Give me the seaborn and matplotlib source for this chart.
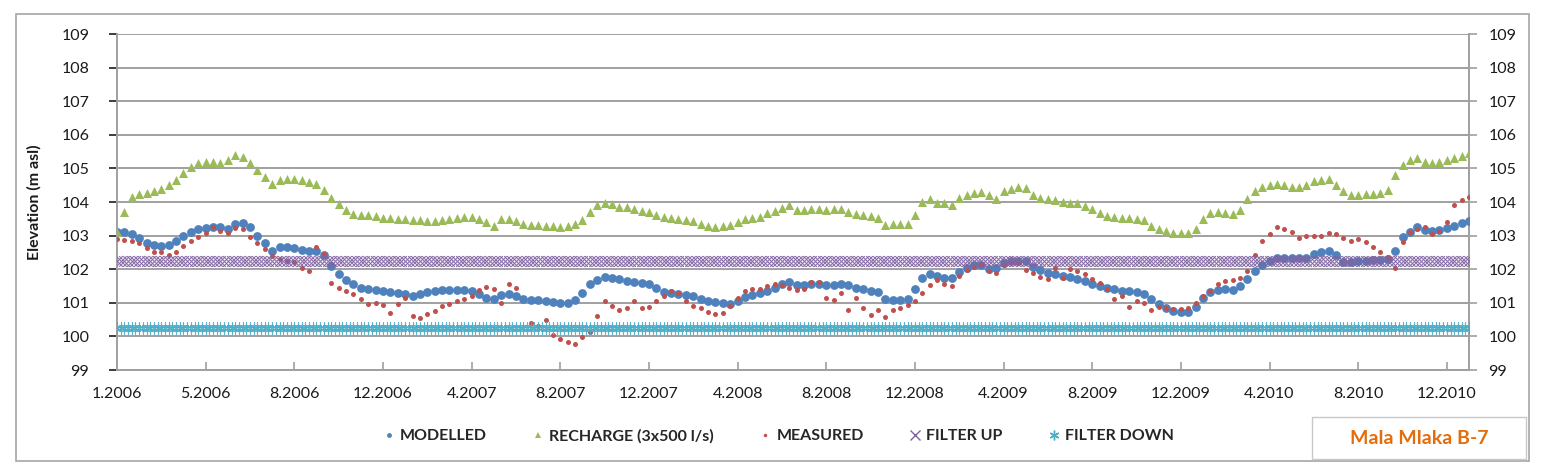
import numpy as np
import pandas as pd
import matplotlib
matplotlib.use("Agg")
import matplotlib.pyplot as plt
import seaborn as sns
from matplotlib.patches import Rectangle
from matplotlib.lines import Line2D

nan = np.nan

tick_labels = ["1.2006", "5.2006", "8.2006", "12.2006", "4.2007", "8.2007", "12.2007",
               "4.2008", "8.2008", "12.2008", "4.2009", "8.2009", "12.2009", "4.2010",
               "8.2010", "12.2010"]

recharge = [
    103.12, 103.7, 104.15, 104.24, 104.28, 104.33, 104.4, 104.5, 104.65, 104.85,
    105.03, 105.15, 105.2, 105.2, 105.15, 105.25, 105.4, 105.33, 105.15, 104.95,
    104.75, 104.55, 104.65, 104.68, 104.68, 104.65, 104.6, 104.55, 104.35, 104.12,
    103.95, 103.75, 103.65, 103.62, 103.6, 103.58, 103.52, 103.53, 103.5, 103.48,
    103.47, 103.46, 103.44, 103.42, 103.46, 103.5, 103.53, 103.56, 103.54, 103.48,
    103.4, 103.28, 103.48, 103.5, 103.42, 103.36, 103.33, 103.31, 103.3, 103.28,
    103.27, 103.3, 103.35, 103.47, 103.7, 103.9, 103.98, 103.93, 103.86, 103.85,
    103.78, 103.74, 103.71, 103.6, 103.56, 103.52, 103.49, 103.46, 103.42, 103.35,
    103.28, 103.27, 103.29, 103.33, 103.4, 103.48, 103.53, 103.56, 103.68, 103.74,
    103.83, 103.91, 103.76, 103.77, 103.8, 103.8, 103.77, 103.78, 103.8, 103.7,
    103.65, 103.62, 103.58, 103.52, 103.33, 103.36, 103.36, 103.35, 103.62, 104.0,
    104.1, 103.98, 103.96, 103.92, 104.12, 104.22, 104.26, 104.3, 104.22, 104.08,
    104.32, 104.4, 104.44, 104.42, 104.2, 104.12, 104.08, 104.05, 104.0, 103.96,
    103.98, 103.88, 103.8, 103.66, 103.57, 103.54, 103.53, 103.52, 103.5, 103.47,
    103.3, 103.2, 103.13, 103.09, 103.07, 103.07, 103.2, 103.5, 103.66, 103.7,
    103.67, 103.63, 103.75, 104.1, 104.33, 104.45, 104.5, 104.55, 104.5, 104.45,
    104.44, 104.5, 104.62, 104.65, 104.67, 104.5, 104.33, 104.2, 104.2, 104.23,
    104.25, 104.28, 104.35, 104.8, 105.1, 105.25, 105.3, 105.2, 105.15, 105.2,
    105.25, 105.3, 105.38, 105.45,
]

modelled = [
    103.12, 103.12, 103.05, 102.92, 102.77, 102.72, 102.7, 102.72, 102.85, 103.0,
    103.12, 103.2, 103.23, 103.25, 103.27, 103.2, 103.36, 103.38, 103.25, 103.0,
    102.78, 102.55, 102.66, 102.65, 102.62, 102.57, 102.53, 102.53, 102.42, 102.1,
    101.85, 101.67, 101.56, 101.45, 101.41, 101.38, 101.35, 101.32, 101.29, 101.25,
    101.21, 101.26, 101.32, 101.35, 101.37, 101.38, 101.38, 101.38, 101.36, 101.27,
    101.15, 101.1, 101.24, 101.27, 101.2, 101.12, 101.09, 101.08, 101.06, 101.03,
    101.0, 101.0, 101.08, 101.3, 101.55, 101.68, 101.76, 101.74, 101.7, 101.66,
    101.62, 101.59, 101.56, 101.45, 101.33, 101.29, 101.26, 101.23, 101.2, 101.12,
    101.04, 101.02, 101.0, 100.95, 101.05, 101.17, 101.23, 101.28, 101.35, 101.45,
    101.56, 101.63, 101.52, 101.54, 101.56, 101.55, 101.54, 101.53, 101.55, 101.52,
    101.45, 101.4, 101.36, 101.33, 101.1, 101.07, 101.07, 101.1, 101.4, 101.75,
    101.86, 101.8, 101.75, 101.73, 101.92, 102.05, 102.12, 102.13, 102.02, 102.05,
    102.17, 102.23, 102.25, 102.23, 102.08, 101.97, 101.9, 101.85, 101.81, 101.77,
    101.7, 101.65, 101.57, 101.5, 101.44, 101.4, 101.36, 101.34, 101.31, 101.27,
    101.1, 100.95, 100.86, 100.76, 100.72, 100.74, 100.88, 101.15, 101.33, 101.38,
    101.4, 101.37, 101.5, 101.72, 101.95, 102.13, 102.25, 102.34, 102.34, 102.32,
    102.32, 102.32, 102.45, 102.5, 102.54, 102.42, 102.22, 102.21, 102.23, 102.25,
    102.27, 102.28, 102.3, 102.55, 102.95, 103.12, 103.25, 103.18, 103.14, 103.17,
    103.24, 103.3, 103.37, 103.42,
]

measured = [
    102.9, 102.88, 102.84, 102.77, 102.62, 102.5, 102.52, 102.43, 102.5, 102.7,
    102.85, 102.97, 103.07, 103.25, 103.15, 103.08, 103.22, 103.2, 102.95, 102.78,
    102.6, 102.4, 102.3, 102.25, 102.2, 102.05, 101.95, 102.65, 102.45, 101.6,
    101.45, 101.35, 101.25, 101.1, 100.95, 101.0, 100.92, 100.7, 100.95, 101.14,
    100.6, 100.55, 100.68, 100.75, 100.9, 100.95, 101.05, 101.1, 101.2, 101.38,
    101.48, 101.4, 101.0, 101.55, 101.43, nan, 100.4, 100.3, 100.5, 100.05,
    99.92, 99.82, 99.76, 99.98, 100.12, 100.6, 101.05, 100.9, 100.8, 100.84,
    101.05, 100.85, 100.88, 101.05, 101.2, 101.36, 101.3, 101.05, 100.9, 100.86,
    100.72, 100.66, 100.69, 100.89, 101.15, 101.35, 101.4, 101.42, 101.5, 101.57,
    101.52, 101.45, 101.38, 101.4, 101.62, 101.63, 101.15, 101.09, 101.3, 100.8,
    101.14, 100.84, 100.64, 100.8, 100.57, 100.79, 100.84, 100.94, 101.04, 101.3,
    101.53, 101.68, 101.55, 101.5, 101.8, 101.97, 102.08, 102.12, 101.95, 101.88,
    102.12, 102.2, 102.18, 101.98, 101.88, 101.78, 101.7, 102.05, 101.75, 102.0,
    101.95, 101.85, 101.72, 101.58, 101.42, 101.1, 101.2, 100.88, 101.04, 100.98,
    100.8, 100.88, 100.84, 100.81, 100.82, 100.86, 100.98, 101.2, 101.35, 101.55,
    101.64, 101.67, 101.75, 101.95, 102.42, 102.85, 103.05, 103.25, 103.2, 103.12,
    102.92, 103.0, 102.98, 103.0, 103.08, 103.05, 102.92, 102.85, 102.9, 102.8,
    102.65, 102.5, 102.35, 102.05, 102.8, 103.1, 103.2, 103.25, 103.05, 103.15,
    103.4, 103.9, 104.05, 104.15,
]

filter_up_level = 102.25
filter_down_level = 100.25

n = min(len(recharge), len(modelled), len(measured))
x = np.arange(n)
df = pd.DataFrame({
    "x": x,
    "MODELLED": modelled[:n],
    "RECHARGE": recharge[:n],
    "MEASURED": measured[:n],
})
# filter levels are constant; drawn at a denser step like the original band
xf = np.arange(0, n - 0.5, 0.5)
dff = pd.DataFrame({
    "x": xf,
    "FILTER UP": np.full(len(xf), filter_up_level),
    "FILTER DOWN": np.full(len(xf), filter_down_level),
})

sns.set_theme(style="white")
plt.rcParams["font.family"] = ["Lato", "DejaVu Sans"]

W, H = 1542, 474
fig = plt.figure(figsize=(W / 100, H / 100), dpi=100)
L, R, T, B = 117, 1469, 34, 370
ax = fig.add_axes([L / W, 1 - B / H, (R - L) / W, (B - T) / H])

GRID = "#A0A0A0"
BLUE, GREEN, RED, PURPLE, CYAN = "#4F81BD", "#9BBB59", "#C0504D", "#8064A2", "#4BACC6"
asterisk = (6, 2, 0)

sns.scatterplot(data=df, x="x", y="MODELLED", ax=ax, color=BLUE, marker="o", s=40,
                linewidth=0, zorder=3, legend=False)
sns.scatterplot(data=df, x="x", y="RECHARGE", ax=ax, color=GREEN, marker="^", s=42,
                linewidth=0, zorder=3, legend=False)
sns.scatterplot(data=df, x="x", y="MEASURED", ax=ax, color=RED, marker="o", s=13,
                linewidth=0, zorder=4, legend=False)
sns.scatterplot(data=dff, x="x", y="FILTER UP", ax=ax, color=PURPLE, marker="x", s=60,
                linewidth=0.8, zorder=5, legend=False, alpha=0.9)
sns.scatterplot(data=dff, x="x", y="FILTER DOWN", ax=ax, color=CYAN, marker=asterisk, s=65,
                linewidth=0.8, zorder=5, legend=False, alpha=0.9)

ax.set_xlim(0, n - 1)
ax.set_ylim(99, 109)
ax.set_yticks(range(99, 110))
ax.set_xticks(np.arange(len(tick_labels)) * 12)
ax.set_xticklabels(tick_labels)
ax.grid(axis="y", color=GRID, lw=1.4)
ax.grid(axis="x", visible=False)
ax.set_axisbelow(True)
ax.set_xlabel("")
ax.set_ylabel("Elevation (m asl)", fontweight="bold", fontsize=11.5, color="#1a1a1a")
ax.yaxis.set_label_coords((42 - L) / (R - L), 0.5)

for side in ["left", "bottom", "right"]:
    ax.spines[side].set_visible(True)
    ax.spines[side].set_color(GRID)
    ax.spines[side].set_linewidth(1.4)
ax.spines["top"].set_visible(False)

ax.tick_params(axis="y", left=False, labelsize=11.5, pad=14, labelcolor="#1a1a1a")
ax.tick_params(axis="x", bottom=True, direction="in", length=6, width=1.2, color=GRID,
               labelsize=11.5, pad=12, labelcolor="#1a1a1a")

ax2 = ax.twinx()
ax2.set_ylim(99, 109)
ax2.set_yticks(range(99, 110))
ax2.tick_params(axis="y", right=True, direction="out", length=6, width=1.2, color=GRID,
                labelsize=11.5, pad=8, labelcolor="#1a1a1a")
for s in ax2.spines.values():
    s.set_visible(False)
ax2.grid(False)

handles = [
    Line2D([], [], ls="", marker="o", color=BLUE, markersize=3.5, markeredgewidth=0),
    Line2D([], [], ls="", marker="^", color=GREEN, markersize=4, markeredgewidth=0),
    Line2D([], [], ls="", marker="o", color=RED, markersize=2.5, markeredgewidth=0),
    Line2D([], [], ls="", marker="x", color=PURPLE, markersize=7, markeredgewidth=1),
    Line2D([], [], ls="", marker=asterisk, color=CYAN, markersize=7, markeredgewidth=1),
]
labels = ["MODELLED", "RECHARGE (3x500 l/s)", "MEASURED", "FILTER UP", "FILTER DOWN"]
fig.legend(handles, labels, loc="center", bbox_to_anchor=(778 / W, 1 - 436 / H), ncol=5,
           frameon=False, prop=dict(weight="bold", size=11.5), handletextpad=0.3,
           columnspacing=2.8, handlelength=0.8)

fig.add_artist(Rectangle((16 / W, 1 - 461 / H), (1529 - 16) / W, (461 - 14) / H,
                         transform=fig.transFigure, fill=False, ec="#A6A6A6", lw=1.2))
fig.add_artist(Rectangle((1312 / W, 1 - 459 / H), 214 / W, 42 / H,
                         transform=fig.transFigure, fc="white", ec="#C8C8C8", lw=1.0))
fig.text(1419 / W, 1 - 438 / H, "Mala Mlaka B-7", color="#E46C0A", fontweight="bold",
         fontsize=14, ha="center", va="center")

fig.savefig("out.png", dpi=100)
